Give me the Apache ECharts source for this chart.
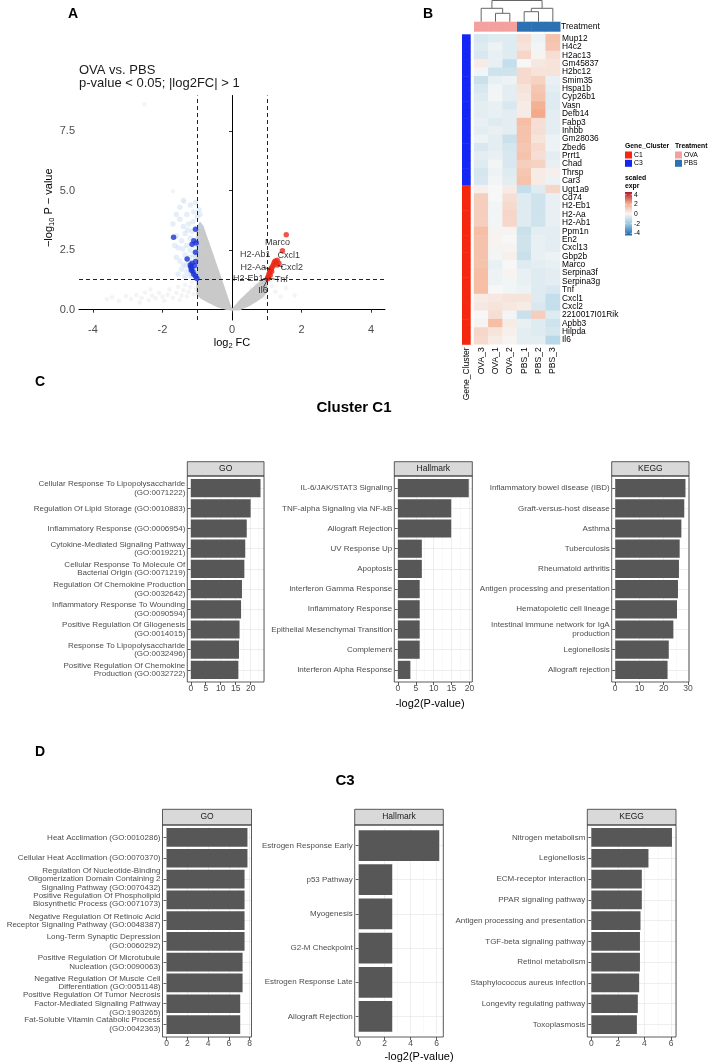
<!DOCTYPE html>
<html>
<head>
<meta charset="utf-8">
<script src="https://cdn.jsdelivr.net/npm/echarts@6/dist/echarts.min.js"></script>
<style>
  html, body { margin: 0; padding: 0; background: #fff; }
  #main { width: 708px; height: 1063px; }
</style>
</head>
<body>
<div id="main"></div>
<script>
// ---------- A: volcano ----------
var fcCut = [-1, 1]
var pCut = 1.3
var volcanoXTicks = [-4, -2, 0, 2, 4]
var volcanoYTicks = [0, 2.5, 5, 7.5]
// dense cloud of non-significant genes (outline)
var nsWedges = [
  [[-0.92, 3.65], [-0.84, 3.5], [-0.6, 2.5], [-0.4, 1.65], [-0.2, 0.8], [-0.05, 0.15], [0, 0],
   [-0.15, 0.02], [-0.4, 0.12], [-0.65, 0.3], [-0.9, 0.5], [-1.0, 0.65], [-1.0, 3.45]],
  [[0, 0], [0.25, 0.42], [0.6, 0.9], [0.93, 1.32], [1.0, 1.28], [1.0, 0.75], [0.85, 0.5], [0.5, 0.18], [0.2, 0.0]]
]
var nsPoints = [[-2.52, 8.63], [-1.70, 4.98], [-1.37, 4.53], [-3.45, 0.52], [-3.25, 0.38], [-3.05, 0.58], [-2.9, 0.45],
  [-2.75, 0.62], [-2.6, 0.5], [-2.5, 0.72], [-2.4, 0.4], [-2.3, 0.6], [-2.2, 0.48], [-2.1, 0.7], [-2.0, 0.55],
  [-1.95, 0.38], [-1.85, 0.62], [-1.8, 0.85], [-1.7, 0.5], [-1.6, 0.7], [-1.55, 0.95], [-1.5, 0.42], [-1.45, 0.6],
  [-1.4, 0.82], [-1.35, 1.05], [-1.3, 0.55], [-1.25, 0.75], [-1.2, 0.95], [-1.15, 1.15], [-1.1, 0.65], [-1.05, 0.88],
  [-2.65, 0.3], [-3.6, 0.45], [-2.35, 0.85], [0.55, 0.85], [0.7, 1.05], [0.85, 0.65], [1.15, 1.0], [1.25, 0.75],
  [1.4, 0.55], [1.55, 0.9], [1.8, 0.6], [1.1, 1.2], [0.95, 0.5]]
var lightBluePoints = [[-0.95, 4.2], [-1.0, 3.9], [-1.05, 4.5], [-1.1, 4.1], [-1.2, 4.4], [-1.3, 4.0], [-1.25, 3.6],
  [-1.15, 3.3], [-1.35, 3.2], [-1.4, 3.5], [-1.5, 3.8], [-1.45, 2.9], [-1.55, 2.6], [-1.3, 2.7], [-1.2, 2.5],
  [-1.35, 2.3], [-1.25, 2.0], [-1.4, 1.9], [-1.3, 1.6], [-1.2, 1.45], [-1.45, 1.7], [-1.6, 2.2], [-1.1, 2.3],
  [-0.95, 2.6], [-0.98, 3.0], [-1.05, 1.7], [-1.15, 1.5], [-1.0, 1.5], [-1.6, 3.1], [-1.7, 3.6], [-1.5, 4.3],
  [-0.9, 3.5], [-1.2, 3.0], [-1.1, 2.7], [-1.35, 1.4], [-1.55, 1.5], [-1.05, 2.2], [-1.4, 4.6], [-1.65, 2.7], [-0.92, 4.0],
  [-1.28, 3.35], [-1.12, 3.7], [-1.42, 2.55], [-1.22, 2.2], [-1.5, 2.05], [-1.02, 2.45], [-1.32, 1.85], [-1.6, 4.0]]
var c3Points = [[-1.05, 3.38], [-1.68, 3.04], [-1.10, 2.90], [-1.15, 2.75], [-1.03, 2.80], [-1.05, 2.41], [-1.29, 2.13],
  [-1.05, 2.02], [-1.15, 1.95], [-1.08, 1.85], [-1.19, 1.80], [-1.17, 1.66], [-1.12, 1.59], [-1.10, 1.49],
  [-1.05, 1.41], [-1.01, 1.31], [-1.20, 1.88], [-1.16, 1.73]]
var c1Points = [[1.56, 3.15], [1.45, 2.48], [1.30, 2.08], [1.25, 2.05], [1.22, 2.0], [1.28, 1.98], [1.35, 1.95],
  [1.20, 1.92], [1.18, 1.85], [1.30, 1.88], [1.15, 1.78], [1.12, 1.72], [1.10, 1.65], [1.14, 1.60], [1.08, 1.55],
  [1.06, 1.48], [1.10, 1.45], [1.05, 1.40], [1.03, 1.35], [1.02, 1.30], [1.04, 1.33], [1.12, 1.68]]
var geneLabels = [['Marco', 1.31, 2.83], ['H2-Ab1', 0.67, 2.31], ['Cxcl1', 1.63, 2.27], ['H2-Aa', 0.61, 1.79],
  ['Cxcl2', 1.72, 1.79], ['H2-Eb1', 0.47, 1.30], ['Tnf', 1.42, 1.25], ['Il6', 0.89, 0.80]]
var labelLinks = [[[1.47, 1.80], [1.32, 1.85]], [[0.90, 1.30], [1.02, 1.31]], [[1.30, 1.26], [1.06, 1.33]],
  [[0.90, 0.93], [1.03, 1.29]], [[0.90, 1.78], [1.10, 1.70]], [[0.0, 1.30], [0.06, 1.30]]]

// ---------- B: heatmap ----------
var samples = ['OVA_3', 'OVA_1', 'OVA_2', 'PBS_1', 'PBS_2', 'PBS_3']
var sampleGroup = ['OVA', 'OVA', 'OVA', 'PBS', 'PBS', 'PBS']
var genes = ['Mup12', 'H4c2', 'H2ac13', 'Gm45837', 'H2bc12', 'Smim35', 'Hspa1b', 'Cyp26b1', 'Vasn', 'Defb14',
  'Fabp3', 'Inhbb', 'Gm28036', 'Zbed6', 'Prrt1', 'Chad', 'Thrsp', 'Car3',
  'Ugt1a9', 'Cd74', 'H2-Eb1', 'H2-Aa', 'H2-Ab1', 'Ppm1n', 'En2', 'Cxcl13', 'Gbp2b', 'Marco', 'Serpina3f',
  'Serpina3g', 'Tnf', 'Cxcl1', 'Cxcl2', '2210017I01Rik', 'Apbb3', 'Hilpda', 'Il6']
var geneCluster = ['C3', 'C3', 'C3', 'C3', 'C3', 'C3', 'C3', 'C3', 'C3', 'C3', 'C3', 'C3', 'C3', 'C3', 'C3', 'C3', 'C3', 'C3',
  'C1', 'C1', 'C1', 'C1', 'C1', 'C1', 'C1', 'C1', 'C1', 'C1', 'C1', 'C1', 'C1', 'C1', 'C1', 'C1', 'C1', 'C1', 'C1']
var exprRows = [
  [-0.6, -0.5, -0.5, 0.6, -0.2, 1.3],
  [-0.5, -0.2, -0.5, 0.5, -0.1, 1.2],
  [-0.6, -0.3, -0.5, 0.8, 0.1, 0.6],
  [0.3, -0.3, -1.0, 0.0, 0.4, 0.5],
  [-0.1, -0.8, -0.8, 0.7, 0.5, 0.5],
  [-0.9, -0.3, -0.2, 0.7, 0.9, -0.3],
  [-0.6, -0.1, -0.4, 0.5, 1.2, -0.4],
  [-0.5, -0.1, -0.4, 0.4, 1.3, -0.5],
  [-0.4, -0.3, -0.6, 0.3, 1.7, -0.5],
  [-0.4, -0.3, -0.4, 0.3, 1.9, -0.4],
  [-0.3, -0.5, -0.4, 1.4, 0.6, -0.4],
  [-0.4, -0.3, -0.4, 1.3, 0.6, -0.4],
  [-0.2, -0.4, -0.9, 1.3, 0.5, -0.2],
  [-0.6, -0.4, -0.7, 1.2, 0.7, -0.2],
  [-0.4, -0.3, -0.6, 1.3, 0.6, -0.4],
  [-0.5, -0.1, -0.6, 1.0, 0.9, -0.3],
  [-0.7, -0.2, -0.5, 1.2, 0.3, 0.2],
  [-0.6, -0.1, -0.4, 1.3, 0.3, -0.2],
  [0.2, 0.0, 0.3, -1.0, -0.5, 0.8],
  [1.0, 0.0, 0.6, -0.5, -0.8, -0.3],
  [1.0, -0.1, 0.7, -0.5, -0.8, -0.3],
  [1.0, -0.1, 0.8, -0.5, -0.8, -0.3],
  [1.0, -0.1, 0.8, -0.5, -0.8, -0.3],
  [1.4, 0.1, 0.1, -0.9, -0.4, -0.4],
  [1.3, 0.1, 0.0, -0.8, -0.3, -0.4],
  [1.3, 0.1, 0.1, -0.8, -0.3, -0.4],
  [1.3, -0.1, 0.2, -0.9, -0.3, -0.2],
  [1.3, -0.3, 0.0, -0.5, -0.4, -0.3],
  [1.4, -0.2, 0.1, -0.3, -0.5, -0.4],
  [1.4, -0.2, -0.1, -0.3, -0.5, -0.4],
  [1.4, 0.0, -0.1, -0.2, -0.5, -0.6],
  [0.3, 0.4, 0.5, 0.5, -0.5, -1.0],
  [0.4, 0.5, 0.4, 0.3, -0.6, -1.0],
  [0.0, 0.6, -0.1, -0.9, 1.0, -0.5],
  [0.1, 1.4, 0.3, -0.3, -0.5, -0.8],
  [0.8, 0.5, 0.2, -0.4, -0.5, -0.7],
  [0.7, 0.3, 0.1, -0.4, -0.4, -1.2]
]
// [leftX, leftHeight, rightX, rightHeight, mergeHeight] in column units
var dendroLinks = [[1, 0, 2, 0, 8.4], [0, 0, 1.5, 8.4, 13.4], [3, 0, 4, 0, 10.0], [3.5, 10.0, 5, 0, 13.4],
  [0.75, 13.4, 4.25, 13.4, 21.2]]
var colorbarTicks = [4, 2, 0, -2, -4]

// ---------- C / D: enrichment ----------
var c1GoTerms = ['Cellular Response To Lipopolysaccharide\n(GO:0071222)', 'Regulation Of Lipid Storage (GO:0010883)',
  'Inflammatory Response (GO:0006954)', 'Cytokine-Mediated Signaling Pathway\n(GO:0019221)',
  'Cellular Response To Molecule Of\nBacterial Origin (GO:0071219)', 'Regulation Of Chemokine Production\n(GO:0032642)',
  'Inflammatory Response To Wounding\n(GO:0090594)', 'Positive Regulation Of Gliogenesis\n(GO:0014015)',
  'Response To Lipopolysaccharide\n(GO:0032496)', 'Positive Regulation Of Chemokine\nProduction (GO:0032722)']
var c1GoVals = [23.3, 20.0, 18.7, 18.2, 17.9, 17.1, 16.8, 16.3, 16.1, 15.9]
var c1HallTerms = ['IL-6/JAK/STAT3 Signaling', 'TNF-alpha Signaling via NF-kB', 'Allograft Rejection', 'UV Response Up',
  'Apoptosis', 'Interferon Gamma Response', 'Inflammatory Response', 'Epithelial Mesenchymal Transition',
  'Complement', 'Interferon Alpha Response']
var c1HallVals = [19.8, 14.9, 14.9, 6.7, 6.7, 6.1, 6.1, 6.1, 6.1, 3.5]
var c1KeggTerms = ['Inflammatory bowel disease (IBD)', 'Graft-versus-host disease', 'Asthma', 'Tuberculosis',
  'Rheumatoid arthritis', 'Antigen processing and presentation', 'Hematopoietic cell lineage',
  'Intestinal immune network for IgA\nproduction', 'Legionellosis', 'Allograft rejection']
var c1KeggVals = [29.0, 28.5, 27.3, 26.6, 26.3, 25.9, 25.5, 24.0, 22.1, 21.6]
var c3GoTerms = ['Heat Acclimation (GO:0010286)', 'Cellular Heat Acclimation (GO:0070370)',
  'Regulation Of Nucleotide-Binding\nOligomerization Domain Containing 2\nSignaling Pathway (GO:0070432)',
  'Positive Regulation Of Phospholipid\nBiosynthetic Process (GO:0071073)',
  'Negative Regulation Of Retinoic Acid\nReceptor Signaling Pathway (GO:0048387)',
  'Long-Term Synaptic Depression\n(GO:0060292)', 'Positive Regulation Of Microtubule\nNucleation (GO:0090063)',
  'Negative Regulation Of Muscle Cell\nDifferentiation (GO:0051148)',
  'Positive Regulation Of Tumor Necrosis\nFactor-Mediated Signaling Pathway\n(GO:1903265)',
  'Fat-Soluble Vitamin Catabolic Process\n(GO:0042363)']
var c3GoVals = [7.8, 7.8, 7.52, 7.52, 7.52, 7.52, 7.33, 7.33, 7.1, 7.1]
var c3HallTerms = ['Estrogen Response Early', 'p53 Pathway', 'Myogenesis', 'G2-M Checkpoint', 'Estrogen Response Late',
  'Allograft Rejection']
var c3HallVals = [6.2, 2.58, 2.58, 2.58, 2.58, 2.58]
var c3KeggTerms = ['Nitrogen metabolism', 'Legionellosis', 'ECM-receptor interaction', 'PPAR signaling pathway',
  'Antigen processing and presentation', 'TGF-beta signaling pathway', 'Retinol metabolism',
  'Staphylococcus aureus infection', 'Longevity regulating pathway', 'Toxoplasmosis']
var c3KeggVals = [6.07, 4.3, 3.8, 3.8, 3.7, 3.66, 3.66, 3.6, 3.5, 3.43]

var FONT = '"Liberation Sans", Arial, Helvetica, sans-serif'
var rdbu = ['#2166ac', '#92c5de', '#f7f7f7', '#f4a582', '#b2182b']
var clusterColors = { C1: '#f5280f', C3: '#1426f5' }
var groupColors = { OVA: '#f4a09e', PBS: '#2c72b2' }

var chart = echarts.init(document.getElementById('main'))

var grids = [], xAxes = [], yAxes = [], series = [], graphics = []

function addText(x, y, text, style) {
  graphics.push({
    type: 'text', x: x, y: y, silent: true, z: 20,
    style: Object.assign({ text: text, fontFamily: FONT, fill: '#000', verticalAlign: 'middle' }, style)
  })
}

// ===== panel A =====
grids.push({ left: 79, top: 95.5, width: 306, height: 224.5, outerBoundsMode: 'none' })
xAxes.push({
  type: 'value', gridIndex: 0, min: -4.4, max: 4.4,
  axisLine: { lineStyle: { color: '#000', width: 1 } },
  axisTick: { customValues: volcanoXTicks, length: 3, lineStyle: { color: '#333' } },
  axisLabel: { customValues: volcanoXTicks, fontSize: 11, color: '#4d4d4d', margin: 4, fontFamily: FONT },
  splitLine: { show: false },
  name: 'log{s|2} FC', nameLocation: 'middle', nameGap: 13,
  nameTextStyle: { fontSize: 11, color: '#000', fontFamily: FONT, lineHeight: 14,
    rich: { s: { fontSize: 7.5, verticalAlign: 'bottom', lineHeight: 14, padding: [6, 0, 0, 0] } } }
})
yAxes.push({
  type: 'value', gridIndex: 0, min: -0.433, max: 9.0,
  axisLine: { show: true, lineStyle: { color: '#000', width: 1 } },
  axisTick: { show: true, customValues: volcanoYTicks, length: 3, lineStyle: { color: '#333' } },
  axisLabel: { customValues: volcanoYTicks, fontSize: 11, color: '#4d4d4d', margin: 4, fontFamily: FONT,
    formatter: function (v) { return v.toFixed(1) } },
  splitLine: { show: false },
  name: '\u2212log{s|10} P \u2212 value', nameLocation: 'middle', nameGap: 20, nameRotate: 90,
  nameTextStyle: { fontSize: 11, color: '#000', fontFamily: FONT, lineHeight: 14,
    rich: { s: { fontSize: 7.5, verticalAlign: 'bottom', lineHeight: 14 } } }
})
series.push({
  type: 'custom', xAxisIndex: 0, yAxisIndex: 0, z: 1, silent: true, clip: true,
  data: nsWedges.map(function (w) { return w[0] }),
  renderItem: function (params, api) {
    var pts = nsWedges[params.dataIndex].map(function (p) { return api.coord(p) })
    return { type: 'polygon', shape: { points: pts }, style: { fill: '#c9c9c9', stroke: '#c9c9c9', lineWidth: 1.5 } }
  }
})
series.push({ type: 'scatter', xAxisIndex: 0, yAxisIndex: 0, z: 2, silent: true, data: nsPoints,
  symbolSize: 4.5, itemStyle: { color: 'rgba(210,210,210,0.3)' } })
series.push({ type: 'scatter', xAxisIndex: 0, yAxisIndex: 0, z: 3, silent: true, data: lightBluePoints,
  symbolSize: 5.5, itemStyle: { color: 'rgba(190,216,240,0.5)' } })
series.push({
  type: 'scatter', xAxisIndex: 0, yAxisIndex: 0, z: 4, silent: true, data: [],
  markLine: {
    silent: true, symbol: 'none', label: { show: false },
    lineStyle: { color: '#222', width: 1, type: [4, 3] },
    data: [{ xAxis: fcCut[0] }, { xAxis: fcCut[1] }, { yAxis: pCut }]
  }
})
series.push({ type: 'scatter', xAxisIndex: 0, yAxisIndex: 0, z: 5, silent: true, data: c3Points,
  symbolSize: 5.5, itemStyle: { color: '#1c33d9' } })
series.push({ type: 'scatter', xAxisIndex: 0, yAxisIndex: 0, z: 5, silent: true, data: c1Points,
  symbolSize: 5.5, itemStyle: { color: '#ec2b19' } })
series.push({
  type: 'lines', coordinateSystem: 'cartesian2d', xAxisIndex: 0, yAxisIndex: 0, z: 6, silent: true,
  data: labelLinks.map(function (l) { return { coords: l } }),
  lineStyle: { color: '#000', width: 0.7, opacity: 1 }
})
series.push({
  type: 'scatter', xAxisIndex: 0, yAxisIndex: 0, z: 7, silent: true, symbolSize: 0,
  data: geneLabels.map(function (g) { return { name: g[0], value: [g[1], g[2]] } }),
  label: { show: true, position: 'inside', formatter: '{b}', fontSize: 9, color: '#000', fontFamily: FONT }
})
addText(79, 70, 'OVA vs. PBS', { fontSize: 13, fill: '#1a1a1a' })
addText(79, 83.5, 'p-value < 0.05; |log2FC| > 1', { fontSize: 13, fill: '#1a1a1a' })

// ===== panel B =====
var hmLeft = 474, hmTop = 34.3, hmW = 86, hmH = 310
var gHeat = grids.length
grids.push({ left: hmLeft, top: hmTop, width: hmW, height: hmH, outerBoundsMode: 'none' })
xAxes.push({ type: 'category', gridIndex: gHeat, data: samples, axisLine: { show: false }, axisTick: { show: false },
  axisLabel: { interval: 0, rotate: 90, fontSize: 8.6, color: '#000', margin: 3, fontFamily: FONT } })
yAxes.push({ type: 'category', gridIndex: gHeat, data: genes, inverse: true, position: 'right',
  axisLine: { show: false }, axisTick: { show: false },
  axisLabel: { interval: 0, fontSize: 8.4, color: '#000', margin: 2, fontFamily: FONT } })
var heatData = []
exprRows.forEach(function (row, r) { row.forEach(function (v, c) { heatData.push([c, r, v]) }) })
var heatSeriesIdx = series.length
series.push({ type: 'heatmap', xAxisIndex: gHeat, yAxisIndex: gHeat, data: heatData, silent: true,
  itemStyle: { borderWidth: 0 } })

// treatment bar
var gTreat = grids.length
grids.push({ left: hmLeft, top: 21.7, width: hmW, height: 10, outerBoundsMode: 'none' })
xAxes.push({ type: 'category', gridIndex: gTreat, data: samples, show: false })
yAxes.push({ type: 'category', gridIndex: gTreat, data: ['Treatment'], position: 'right',
  axisLine: { show: false }, axisTick: { show: false },
  axisLabel: { fontSize: 8.6, color: '#000', margin: 1, fontFamily: FONT } })
series.push({
  type: 'custom', xAxisIndex: gTreat, yAxisIndex: gTreat, silent: true,
  data: samples.map(function (s, i) { return [i, 0] }),
  renderItem: function (params, api) {
    var c = api.coord([api.value(0), api.value(1)]), s = api.size([1, 1])
    return { type: 'rect', shape: { x: c[0] - s[0] / 2, y: c[1] - s[1] / 2, width: s[0] + 0.5, height: s[1] },
      style: { fill: groupColors[sampleGroup[params.dataIndex]] } }
  }
})

// gene cluster bar
var gClu = grids.length
grids.push({ left: 462, top: hmTop, width: 8.7, height: hmH, outerBoundsMode: 'none' })
xAxes.push({ type: 'category', gridIndex: gClu, data: ['Gene_Cluster'], axisLine: { show: false },
  axisTick: { show: false }, axisLabel: { rotate: 90, fontSize: 8.6, color: '#000', margin: 3, fontFamily: FONT } })
yAxes.push({ type: 'category', gridIndex: gClu, data: genes, inverse: true, show: false })
series.push({
  type: 'custom', xAxisIndex: gClu, yAxisIndex: gClu, silent: true,
  data: genes.map(function (g, i) { return [0, i] }),
  renderItem: function (params, api) {
    var c = api.coord([api.value(0), api.value(1)]), s = api.size([1, 1])
    return { type: 'rect', shape: { x: c[0] - s[0] / 2, y: c[1] - s[1] / 2, width: s[0], height: s[1] + 0.5 },
      style: { fill: clusterColors[geneCluster[params.dataIndex]] } }
  }
})

// dendrogram
var gDen = grids.length
grids.push({ left: hmLeft, top: 0.5, width: hmW, height: 21.2, outerBoundsMode: 'none' })
xAxes.push({ type: 'value', gridIndex: gDen, min: -0.5, max: 5.5, show: false })
yAxes.push({ type: 'value', gridIndex: gDen, min: 0, max: 21.2, show: false })
series.push({
  type: 'custom', xAxisIndex: gDen, yAxisIndex: gDen, silent: true, clip: false,
  data: dendroLinks.map(function (d) { return [d[0], d[4]] }),
  renderItem: function (params, api) {
    var d = dendroLinks[params.dataIndex]
    var pts = [api.coord([d[0], d[1]]), api.coord([d[0], d[4]]), api.coord([d[2], d[4]]), api.coord([d[2], d[3]])]
    return { type: 'polyline', shape: { points: pts }, style: { stroke: '#666', lineWidth: 1, fill: null } }
  }
})

// heatmap legends
addText(625, 146, 'Gene_Cluster', { fontSize: 6.8, fontWeight: 'bold' })
addText(675, 146, 'Treatment', { fontSize: 6.8, fontWeight: 'bold' })
;['C1', 'C3'].forEach(function (k, i) {
  graphics.push({ type: 'rect', shape: { x: 625, y: 151.5 + i * 8.3, width: 7, height: 7 }, style: { fill: clusterColors[k] } })
  addText(634, 155 + i * 8.3, k, { fontSize: 6.8 })
})
;['OVA', 'PBS'].forEach(function (k, i) {
  graphics.push({ type: 'rect', shape: { x: 675, y: 151.5 + i * 8.3, width: 7, height: 7 }, style: { fill: groupColors[k] } })
  addText(684, 155 + i * 8.3, k, { fontSize: 6.8 })
})
addText(625, 178, 'scaled', { fontSize: 6.8, fontWeight: 'bold' })
addText(625, 186.3, 'expr', { fontSize: 6.8, fontWeight: 'bold' })
graphics.push({
  type: 'rect', shape: { x: 625, y: 192, width: 7, height: 43.5 },
  style: { fill: new echarts.graphic.LinearGradient(0, 0, 0, 1, rdbu.slice().reverse().map(function (c, i) {
    return { offset: i / (rdbu.length - 1), color: c } })) }
})
colorbarTicks.forEach(function (v) {
  var y = 194.7 + (4 - v) / 8 * 38.6
  graphics.push({ type: 'line', shape: { x1: 625, y1: y, x2: 626.5, y2: y }, style: { stroke: '#fff', lineWidth: 0.6 } })
  graphics.push({ type: 'line', shape: { x1: 630.5, y1: y, x2: 632, y2: y }, style: { stroke: '#fff', lineWidth: 0.6 } })
  addText(634, y, String(v), { fontSize: 6.8 })
})

// ===== panels C / D =====
var enrichPanels = [
  { terms: c1GoTerms, vals: c1GoVals, strip: 'GO', left: 187.3, right: 264, stripTop: 461.7, top: 476, bottom: 682, step: 5 },
  { terms: c1HallTerms, vals: c1HallVals, strip: 'Hallmark', left: 394.3, right: 472.3, stripTop: 461.7, top: 476, bottom: 682, step: 5 },
  { terms: c1KeggTerms, vals: c1KeggVals, strip: 'KEGG', left: 611.7, right: 689, stripTop: 461.7, top: 476, bottom: 682, step: 10 },
  { terms: c3GoTerms, vals: c3GoVals, strip: 'GO', left: 162.5, right: 251.5, stripTop: 809.3, top: 825, bottom: 1037, step: 2 },
  { terms: c3HallTerms, vals: c3HallVals, strip: 'Hallmark', left: 354.7, right: 443.3, stripTop: 809.3, top: 825, bottom: 1037, step: 2 },
  { terms: c3KeggTerms, vals: c3KeggVals, strip: 'KEGG', left: 587.3, right: 676, stripTop: 809.3, top: 825, bottom: 1037, step: 2 }
]
enrichPanels.forEach(function (p) {
  var gi = grids.length
  var n = p.vals.length
  var dmax = Math.max.apply(null, p.vals)
  var pw = p.right - p.left, ph = p.bottom - p.top
  var expPx = pw * 0.05 / 1.10
  var band = ph / (n + 0.2)
  grids.push({ left: p.left + expPx, top: p.top + 0.1 * band, width: pw - expPx, height: n * band,
    outerBoundsMode: 'none', show: true, backgroundColor: '#fff', borderWidth: 0 })
  xAxes.push({
    type: 'value', gridIndex: gi, min: 0, max: dmax * 1.05, interval: p.step, offset: 0.1 * band,
    axisLine: { show: false },
    axisTick: { show: true, length: 3, lineStyle: { color: '#333', width: 0.8 } },
    axisLabel: { fontSize: 8.5, color: '#4d4d4d', margin: 2, showMaxLabel: false, fontFamily: FONT },
    splitLine: { show: true, lineStyle: { color: '#e6e6e6', width: 0.7 } },
    minorTick: { show: false, splitNumber: 2 },
    minorSplitLine: { show: true, lineStyle: { color: '#f2f2f2', width: 0.5 } }
  })
  yAxes.push({
    type: 'category', gridIndex: gi, data: p.terms, inverse: true, offset: expPx,
    axisLine: { show: false },
    axisTick: { show: true, alignWithLabel: true, length: 3, lineStyle: { color: '#333', width: 0.8 } },
    axisLabel: { interval: 0, fontSize: 8, color: '#4d4d4d', margin: 2, lineHeight: 8.6, fontFamily: FONT },
    splitLine: { show: false }
  })
  series.push({
    type: 'bar', xAxisIndex: gi, yAxisIndex: gi, data: p.vals, barCategoryGap: '10%', silent: true,
    itemStyle: { color: '#575757' }, z: 2,
    markLine: { silent: true, symbol: 'none', z: 1, label: { show: false }, animation: false,
      lineStyle: { color: '#e6e6e6', width: 0.7, type: 'solid' },
      data: p.terms.map(function (t) { return { yAxis: t } }) }
  })
  // facet strip and panel border
  graphics.push({ type: 'rect', z: 15, shape: { x: p.left, y: p.stripTop, width: pw, height: p.top - p.stripTop },
    style: { fill: '#d9d9d9', stroke: '#333', lineWidth: 0.8 } })
  graphics.push({ type: 'text', z: 16, x: (p.left + p.right) / 2, y: (p.stripTop + p.top) / 2,
    style: { text: p.strip, fontSize: 8.5, fill: '#1a1a1a', align: 'center', verticalAlign: 'middle', fontFamily: FONT } })
  graphics.push({ type: 'rect', z: 15, shape: { x: p.left, y: p.top, width: pw, height: ph },
    style: { fill: null, stroke: '#333', lineWidth: 0.8 } })
})

addText(354, 408, 'Cluster C1', { fontSize: 15, fontWeight: 'bold', align: 'center' })
addText(430, 704, '-log2(P-value)', { fontSize: 11, align: 'center' })
addText(345, 781, 'C3', { fontSize: 15, fontWeight: 'bold', align: 'center' })
addText(419, 1057, '-log2(P-value)', { fontSize: 11, align: 'center' })

// panel letters
addText(73, 14, 'A', { fontSize: 14, fontWeight: 'bold', align: 'center' })
addText(428, 14, 'B', { fontSize: 14, fontWeight: 'bold', align: 'center' })
addText(40, 382, 'C', { fontSize: 14, fontWeight: 'bold', align: 'center' })
addText(40, 752, 'D', { fontSize: 14, fontWeight: 'bold', align: 'center' })

chart.setOption({
  animation: false,
  backgroundColor: '#fff',
  textStyle: { fontFamily: FONT },
  grid: grids,
  xAxis: xAxes,
  yAxis: yAxes,
  visualMap: [{ type: 'continuous', show: false, min: -4, max: 4, dimension: 2, seriesIndex: heatSeriesIdx,
    inRange: { color: rdbu } }],
  series: series,
  graphic: graphics
})
</script>
</body>
</html>
